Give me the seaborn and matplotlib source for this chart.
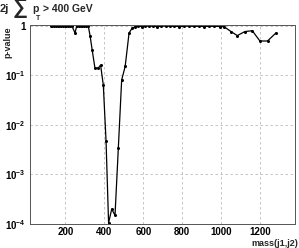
import math
import matplotlib
matplotlib.use("Agg")
import matplotlib.pyplot as plt
import matplotlib.ticker as mticker
import seaborn as sns
import pandas as pd

# p-value scan vs dijet mass
mass = [125, 134, 143, 152, 161, 170, 179, 188, 197, 206, 215, 224, 233,
        250, 258, 268, 278, 288, 298, 308, 318,
        327, 338, 352, 369, 381, 395, 409, 422, 438, 455, 472, 489, 507, 527, 542,
        557, 574, 592, 611, 630, 650, 671, 692, 714, 737, 760, 784, 808, 833,
        858, 884, 910, 937, 964, 992, 1014,
        1050, 1082, 1121, 1159, 1198, 1237, 1280]
pvalue = [1.0, 1.0, 1.0, 1.0, 1.0, 1.0, 1.0, 1.0, 1.0, 1.0, 1.0, 1.0, 1.0,
          0.71, 0.97, 0.97, 0.98, 0.98, 0.97, 0.98, 0.97,
          0.63, 0.32, 0.14, 0.14, 0.16, 0.063, 0.0047, 1.05e-4, 2.0e-4, 1.5e-4,
          0.0034, 0.08, 0.15, 0.71, 0.88,
          0.95, 0.97, 0.96, 0.97, 0.98, 0.97, 0.96, 0.97, 0.98, 0.97, 0.97, 0.96,
          0.97, 0.98, 0.97, 0.97, 0.96, 0.97, 0.97, 0.96, 0.95,
          0.76, 0.63, 0.76, 0.79, 0.49, 0.49, 0.71]

x_ticks = [200, 400, 600, 800, 1000, 1200]
y_ticks = [1e-4, 1e-3, 1e-2, 1e-1, 1]

W, H = 299, 248

sns.set_style("white")
plt.rcParams["font.family"] = ["Liberation Sans", "DejaVu Sans"]
plt.rcParams["font.weight"] = "bold"
plt.rcParams["mathtext.fontset"] = "custom"
plt.rcParams["mathtext.rm"] = "Liberation Sans:bold"
plt.rcParams["mathtext.bf"] = "Liberation Sans:bold"
plt.rcParams["mathtext.it"] = "Liberation Sans:bold"

df = pd.DataFrame({"mass": mass, "pvalue": pvalue})

fig = plt.figure(figsize=(W / 100, H / 100), dpi=100)
ax = fig.add_axes([30 / W, 1 - 224 / H, 265 / W, 199 / H])

sns.lineplot(data=df, x="mass", y="pvalue", ax=ax, color="black",
             linewidth=0.9, marker="o", markersize=2.2, markeredgewidth=0)

ax.set_yscale("log")
ax.set_xlim(19, 1378)
ax.set_ylim(1e-4, 1.03)
ax.set_xlabel("")
ax.set_ylabel("")

ax.set_xticks(x_ticks)
ax.xaxis.set_minor_locator(mticker.MultipleLocator(40))
ax.set_yticks(y_ticks)
ax.yaxis.set_minor_locator(mticker.LogLocator(base=10, subs=range(2, 10)))
ax.yaxis.set_minor_formatter(mticker.NullFormatter())


def fmt_log(v, pos):
    if abs(v - 1) < 1e-9:
        return "1"
    return r"$\mathbf{10^{%d}}$" % int(round(math.log10(v)))


ax.yaxis.set_major_formatter(mticker.FuncFormatter(fmt_log))

ax.tick_params(axis="both", which="major", direction="in", length=5,
               width=0.7, labelsize=7, colors="#333333", labelcolor="black")
ax.tick_params(axis="both", which="minor", direction="in", length=2.5,
               width=0.6, colors="#333333")
ax.tick_params(axis="x", pad=2.5)
ax.tick_params(axis="y", pad=3)

ax.grid(True, which="major", linestyle=(0, (3, 3)), color="#bbbbbb",
        linewidth=0.6)
for s in ax.spines.values():
    s.set_color("#555555")
    s.set_linewidth(0.7)

# title pieces
fig.text(0 / W, 1 - 12 / H, "2j", fontsize=8, fontweight="bold",
         ha="left", va="baseline")
fig.text(13 / W, 1 - 8.5 / H, "\u2211", fontsize=15, fontweight="bold",
         ha="left", va="center")
fig.text(32 / W, 1 - 12 / H, "p", fontsize=7.5, fontweight="bold",
         ha="left", va="baseline")
fig.text(36 / W, 1 - 20 / H, "T", fontsize=5, fontweight="bold",
         ha="left", va="baseline")
fig.text(43 / W, 1 - 12 / H, "> 400 GeV", fontsize=7.5, fontweight="bold",
         ha="left", va="baseline")

fig.text(8 / W, 1 - 27 / H, "p-value", fontsize=6.5, fontweight="bold",
         rotation=90, ha="center", va="top")
fig.text(298 / W, 1 - 246 / H, "mass(j1,j2)", fontsize=6.5,
         fontweight="bold", ha="right", va="baseline")

fig.savefig("out.png", dpi=100)
